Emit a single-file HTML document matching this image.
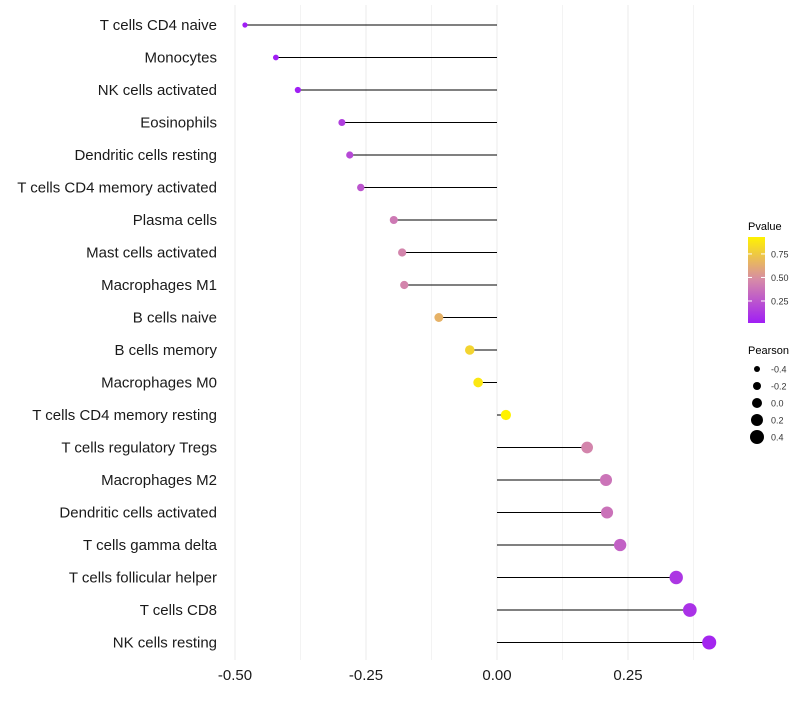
<!DOCTYPE html>
<html><head><meta charset="utf-8"><style>
body{margin:0;background:#fff;font-family:"Liberation Sans",sans-serif;}
svg text{font-family:"Liberation Sans",sans-serif;}
</style></head><body>
<svg id="chart" width="800" height="700">
<defs><linearGradient id="pg" x1="0" y1="1" x2="0" y2="0">
<stop offset="0" stop-color="#a01ef5"/><stop offset="0.5" stop-color="#d68aa8"/><stop offset="1" stop-color="#fff200"/></linearGradient></defs>
<g id="grid"></g><g id="marks"></g><g id="ylabels"></g><g id="xticks"></g>
<g>
<text x="748" y="230" font-size="11" fill="#000">Pvalue</text>
<rect x="748" y="237" width="17" height="86" fill="url(#pg)"/>
<g id="plegend"></g>
</g>
<g>
<text x="748" y="354" font-size="11" fill="#000">Pearson</text>
<g id="slegend"></g>
</g>
</svg>
<script>
const categories=["T cells CD4 naive","Monocytes","NK cells activated","Eosinophils","Dendritic cells resting","T cells CD4 memory activated","Plasma cells","Mast cells activated","Macrophages M1","B cells naive","B cells memory","Macrophages M0","T cells CD4 memory resting","T cells regulatory  Tregs ","Macrophages M2","Dendritic cells activated","T cells gamma delta","T cells follicular helper","T cells CD8","NK cells resting"];
const pearson=[-0.481,-0.422,-0.380,-0.296,-0.281,-0.260,-0.197,-0.181,-0.177,-0.111,-0.052,-0.036,0.017,0.172,0.208,0.210,0.235,0.342,0.368,0.405];
const pvalues=[0.001,0.005,0.02,0.15,0.2,0.25,0.4,0.45,0.45,0.65,0.8,0.88,0.93,0.45,0.38,0.37,0.3,0.12,0.1,0.05];
const xTicks=[-0.5,-0.25,0,0.25];
const xTickLabels=["-0.50","-0.25","0.00","0.25"];
const pTicks=[0.25,0.5,0.75];
const sizeTicks=[-0.4,-0.2,0,0.2,0.4];
const NS="http://www.w3.org/2000/svg";
const x=v=>497+v*524;
const y=i=>25+i*32.5;
const r=v=>5+v*5;
const pMin=0.016,pMax=0.93;
const py=p=>323-(p-pMin)/(pMax-pMin)*86;
function lerp(a,b,t){return a.map((c,i)=>Math.round(c+(b[i]-c)*t));}
function col(p){let t=Math.max(0,Math.min(1,(p-pMin)/(pMax-pMin)));
const A=[160,30,245],B=[214,138,168],C=[255,242,0];
const c=t<0.5?lerp(A,B,t/0.5):lerp(B,C,(t-0.5)/0.5);return `rgb(${c})`;}
function mk(tag,attrs,parent){const e=document.createElementNS(NS,tag);for(const k in attrs)e.setAttribute(k,attrs[k]);parent.appendChild(e);return e;}
const grid=document.getElementById('grid');
for(let v=-0.5;v<=0.376;v+=0.125){const l=mk('line',{x1:x(v),x2:x(v),y1:5,y2:660,stroke:'#ebebeb','stroke-width':Math.abs((v*4)%1)<1e-6?1:0.6},grid);

}
const marks=document.getElementById('marks'),yl=document.getElementById('ylabels');
categories.forEach((c,i)=>{
const s=mk('line',{x1:x(0),x2:x(pearson[i]),y1:y(i),y2:y(i),stroke:'#000','stroke-width':1},marks);


const d=mk('circle',{cx:x(pearson[i]),cy:y(i),r:r(pearson[i]),fill:col(pvalues[i])},marks);


const t=mk('text',{x:217,y:y(i)+5,'text-anchor':'end','font-size':15,fill:'#1a1a1a'},yl);t.textContent=c;


});
const xt=document.getElementById('xticks');
xTicks.forEach((v,i)=>{const t=mk('text',{x:x(v),y:680,'text-anchor':'middle','font-size':15,fill:'#1a1a1a'},xt);t.textContent=xTickLabels[i];

});
const pl=document.getElementById('plegend');
pTicks.forEach(p=>{mk('line',{x1:748,x2:752,y1:py(p),y2:py(p),stroke:'#fff'},pl);mk('line',{x1:761,x2:765,y1:py(p),y2:py(p),stroke:'#fff'},pl);
const t=mk('text',{x:771,y:py(p)+3.5,'font-size':9,fill:'#333'},pl);t.textContent=p.toFixed(2);

});
const sl=document.getElementById('slegend');
sizeTicks.forEach((v,i)=>{const cy=369+i*17;mk('circle',{cx:757,cy:cy,r:r(v),fill:'#000'},sl);
const t=mk('text',{x:771,y:cy+3.5,'font-size':9,fill:'#333'},sl);t.textContent=v.toFixed(1);

});
</script>
</body></html>
